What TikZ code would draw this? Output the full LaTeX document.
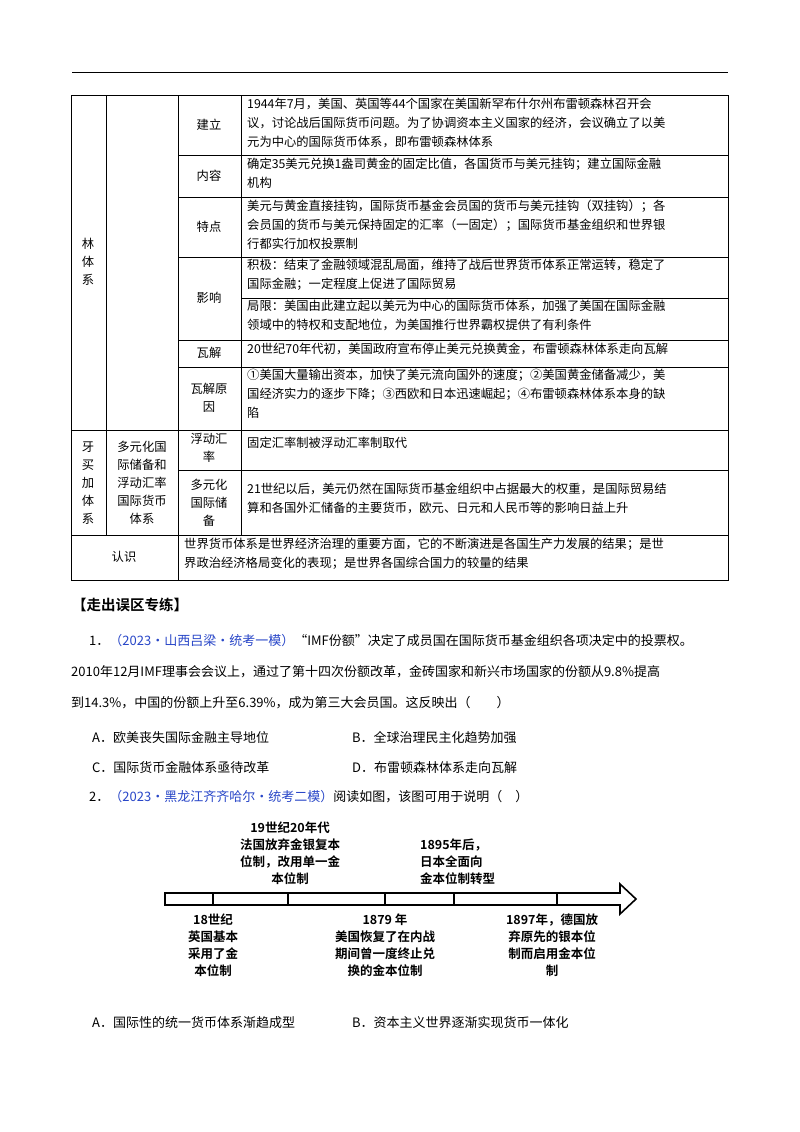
\documentclass[tikz,border=0pt]{standalone}
\usepackage{fontspec}
\setmainfont{Noto Sans CJK SC}[BoldFont={Noto Sans CJK SC Bold}]
\usetikzlibrary{positioning}
\definecolor{srcblue}{RGB}{40,70,200}
\tikzset{
  cell/.style={anchor=north west, inner sep=0pt, align=left, font=\fontsize{12.3}{19}\selectfont},
  head/.style={inner sep=0pt, align=center, font=\fontsize{12.3}{18}\selectfont},
  body/.style={anchor=west, inner sep=0pt, font=\fontsize{13}{16}\selectfont},
  tl/.style={inner sep=0pt, align=center, font=\bfseries\fontsize{12.5}{17}\selectfont}
}
\begin{document}
\begin{tikzpicture}[x=1pt,y=-1pt]
\useasboundingbox[fill=white] (0,0) rectangle (800,1132);
% page header line
\draw[line width=0.8pt] (72,72) -- (728,72);

% table frame
\draw[line width=0.6pt] (71,95) rectangle (728,580);
\draw (106,95) -- (106,535);
\draw (178,95) -- (178,580);
\draw (241,95) -- (241,535);
\draw (71,430) -- (728,430);
\draw (71,535) -- (728,535);
\foreach \y in {155,197,257,340,367,470} \draw (178,\y) -- (728,\y);
\draw (241,298) -- (728,298);

% left headings
\node[head] (lin) at (88,262) {林\\体\\系};
\node[head] (jmk) at (88,483) {牙\\买\\加\\体\\系};
\node[head] (dyh) at (142,483) {多元化国\\际储备和\\浮动汇率\\国际货币\\体系};
\node[head] (rs) at (124,557) {认识};

% second column headings
\node[head] (jl) at (209,125) {建立};
\node[head] (nr) at (209,176) {内容};
\node[head] (td) at (209,227) {特点};
\node[head] (yx) at (209,298) {影响};
\node[head] (wj) at (209,353) {瓦解};
\node[head] (wjy) at (209,398) {瓦解原\\因};
\node[head] (fd) at (209,448) {浮动汇\\率};
\node[head] (dy) at (209,503) {多元化\\国际储\\备};

% content cells
\node[cell] (c1) at (247,98) {1944年7月，美国、英国等44个国家在美国新罕布什尔州布雷顿森林召开会\\议，讨论战后国际货币问题。为了协调资本主义国家的经济，会议确立了以美\\元为中心的国际货币体系，即布雷顿森林体系};
\node[cell] (c2) at (247,158) {确定35美元兑换1盎司黄金的固定比值，各国货币与美元挂钩；建立国际金融\\机构};
\node[cell] (c3) at (247,200) {美元与黄金直接挂钩，国际货币基金会员国的货币与美元挂钩（双挂钩）；各\\会员国的货币与美元保持固定的汇率（一固定）；国际货币基金组织和世界银\\行都实行加权投票制};
\node[cell] (c4) at (247,259) {积极：结束了金融领域混乱局面，维持了战后世界货币体系正常运转，稳定了\\国际金融；一定程度上促进了国际贸易};
\node[cell] (c5) at (247,300) {局限：美国由此建立起以美元为中心的国际货币体系，加强了美国在国际金融\\领域中的特权和支配地位，为美国推行世界霸权提供了有利条件};
\node[cell] (c6) at (247,343) {20世纪70年代初，美国政府宣布停止美元兑换黄金，布雷顿森林体系走向瓦解};
\node[cell] (c7) at (247,369) {①美国大量输出资本，加快了美元流向国外的速度；②美国黄金储备减少，美\\国经济实力的逐步下降；③西欧和日本迅速崛起；④布雷顿森林体系本身的缺\\陷};
\node[cell] (c8) at (247,437) {固定汇率制被浮动汇率制取代};
\node[cell] (c9) at (247,483) {21世纪以后，美元仍然在国际货币基金组织中占据最大的权重，是国际贸易结\\算和各国外汇储备的主要货币，欧元、日元和人民币等的影响日益上升};
\node[cell] (c10) at (184,538) {世界货币体系是世界经济治理的重要方面，它的不断演进是各国生产力发展的结果；是世\\界政治经济格局变化的表现；是世界各国综合国力的较量的结果};

% questions
\node[anchor=west, inner sep=0pt, font=\bfseries\fontsize{14.5}{16}\selectfont] (zc) at (72,605) {【走出误区专练】};
\node[body] (q1a) at (89,641) {1．\textcolor{srcblue}{（2023·山西吕梁·统考一模）}“IMF份额”决定了成员国在国际货币基金组织各项决定中的投票权。};
\node[body] (q1b) at (71,672) {2010年12月IMF理事会会议上，通过了第十四次份额改革，金砖国家和新兴市场国家的份额从9.8\%提高};
\node[body] (q1c) at (71,703) {到14.3\%，中国的份额上升至6.39\%，成为第三大会员国。这反映出（　　）};
\node[body] (oa) at (92,738) {A．欧美丧失国际金融主导地位};
\node[body] (ob) at (352,738) {B．全球治理民主化趋势加强};
\node[body] (oc) at (92,768) {C．国际货币金融体系亟待改革};
\node[body] (od) at (352,768) {D．布雷顿森林体系走向瓦解};
\node[body] (q2) at (89,797) {2．\textcolor{srcblue}{（2023·黑龙江齐齐哈尔·统考二模）}阅读如图，该图可用于说明（　）};

% timeline arrow
\draw[line width=1.6pt, line join=miter] (165,893) -- (620,893) -- (620,884) -- (636,899) -- (620,914) -- (620,905) -- (165,905) -- cycle;
\foreach \x in {213,288,385,454,557} \draw[line width=1.6pt] (\x,893) -- (\x,905);
\node[tl, anchor=south] (t1) at (290,885) {19世纪20年代\\法国放弃金银复本\\位制，改用单一金\\本位制};
\node[tl, anchor=south west, align=left] (t2) at (420,885) {1895年后，\\日本全面向\\金本位制转型};
\node[tl, anchor=north] (b1) at (213,914) {18世纪\\英国基本\\采用了金\\本位制};
\node[tl, anchor=north] (b2) at (385,914) {1879 年\\美国恢复了在内战\\期间曾一度终止兑\\换的金本位制};
\node[tl, anchor=north] (b3) at (552,914) {1897年，德国放\\弃原先的银本位\\制而启用金本位\\制};

\node[body] (oa2) at (92,1023) {A．国际性的统一货币体系渐趋成型};
\node[body] (ob2) at (352,1023) {B．资本主义世界逐渐实现货币一体化};
\end{tikzpicture}
\end{document}
